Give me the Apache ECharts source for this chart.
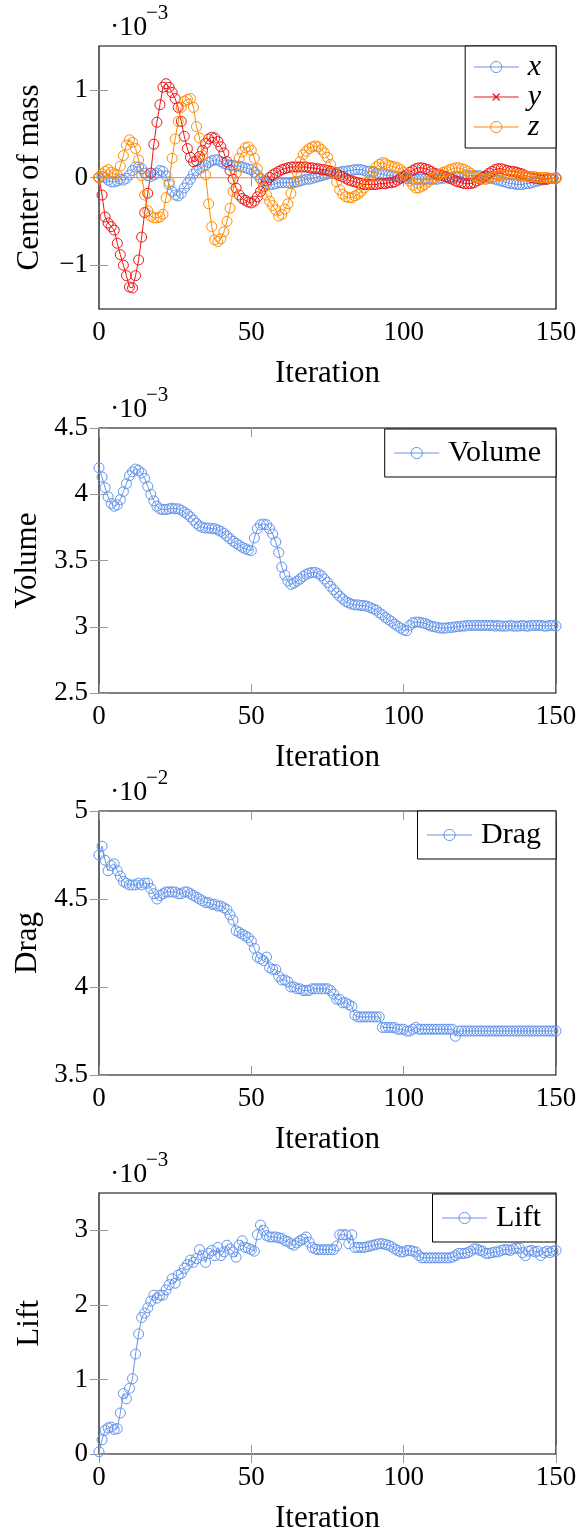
<!DOCTYPE html>
<html>
<head>
<meta charset="utf-8">
<script src="https://cdn.jsdelivr.net/npm/echarts@6/dist/echarts.min.js"></script>
<style>
html,body{margin:0;padding:0;background:#fff;}
#chart{width:580px;height:1535px;}
</style>
</head>
<body>
<div id="chart"></div>
<script>
// ---------- data ----------
const iterations = Array.from({length: 151}, (_, i) => i);
const xTicks = [0, 50, 100, 150];
const comTicks = [-1, 0, 1];
const volumeTicks = [2.5, 3, 3.5, 4, 4.5];
const dragTicks = [3.5, 4, 4.5, 5];
const liftTicks = [0, 1, 2, 3];

// Center of mass (x 1e-3)
const comX = [
 0.00,0.01,0.00,-0.03,-0.05,-0.05,-0.04,-0.02,-0.03,-0.01,
 0.03,0.08,0.12,0.12,0.10,0.05,0.02,0.01,0.03,0.05,
 0.08,0.07,0.02,-0.08,-0.16,-0.20,-0.21,-0.18,-0.12,-0.07,
 -0.02,0.04,0.08,0.10,0.12,0.14,0.17,0.19,0.20,0.20,
 0.18,0.16,0.15,0.14,0.14,0.13,0.13,0.12,0.11,0.10,
 0.09,0.06,0.03,-0.01,-0.04,-0.07,-0.08,-0.08,-0.07,-0.06,
 -0.06,-0.06,-0.06,-0.06,-0.05,-0.05,-0.04,-0.03,-0.02,-0.02,
 -0.01,0.00,0.01,0.02,0.03,0.04,0.05,0.05,0.06,0.06,
 0.07,0.07,0.08,0.08,0.09,0.09,0.09,0.08,0.07,0.07,
 0.06,0.05,0.04,0.04,0.03,0.02,0.02,0.01,0.01,0.00,
 0.00,-0.01,-0.01,-0.02,-0.02,-0.02,-0.02,-0.02,-0.02,-0.02,
 -0.02,-0.02,-0.01,-0.01,0.00,0.00,0.00,0.01,0.01,0.01,
 0.02,0.02,0.02,0.02,0.02,0.02,0.01,0.01,0.00,-0.01,
 -0.02,-0.03,-0.04,-0.05,-0.06,-0.07,-0.07,-0.08,-0.08,-0.08,
 -0.07,-0.07,-0.06,-0.05,-0.04,-0.03,-0.02,-0.02,-0.01,-0.01,
 0.00
];
const comY = [
 0.00,-0.20,-0.45,-0.52,-0.56,-0.60,-0.75,-0.88,-1.00,-1.12,
 -1.25,-1.26,-1.12,-0.94,-0.68,-0.40,-0.18,0.05,0.38,0.63,
 0.83,1.03,1.07,1.03,0.97,0.90,0.80,0.64,0.47,0.33,
 0.23,0.18,0.19,0.24,0.31,0.39,0.44,0.46,0.45,0.41,
 0.35,0.28,0.18,0.08,-0.02,-0.12,-0.20,-0.24,-0.26,-0.28,
 -0.29,-0.27,-0.22,-0.16,-0.10,-0.04,0.00,0.03,0.05,0.07,
 0.09,0.10,0.11,0.12,0.12,0.12,0.12,0.12,0.12,0.11,
 0.11,0.10,0.10,0.09,0.09,0.08,0.07,0.06,0.04,0.02,
 0.01,-0.01,-0.03,-0.04,-0.05,-0.06,-0.07,-0.08,-0.08,-0.08,
 -0.08,-0.08,-0.07,-0.07,-0.07,-0.06,-0.06,-0.05,-0.03,-0.01,
 0.01,0.03,0.06,0.08,0.10,0.11,0.11,0.10,0.09,0.07,
 0.05,0.04,0.03,0.02,0.01,-0.01,-0.02,-0.04,-0.05,-0.06,
 -0.07,-0.07,-0.07,-0.06,-0.04,-0.02,0.00,0.02,0.05,0.07,
 0.09,0.10,0.10,0.09,0.08,0.07,0.07,0.06,0.05,0.04,
 0.02,0.01,0.00,-0.01,-0.01,-0.02,-0.02,-0.02,-0.01,-0.01,
 -0.01
];
const comZ = [
 0.00,0.04,0.07,0.09,0.06,0.04,0.03,0.13,0.25,0.37,
 0.43,0.40,0.33,0.20,0.02,-0.20,-0.38,-0.44,-0.46,-0.46,
 -0.45,-0.42,-0.23,-0.05,0.22,0.44,0.64,0.80,0.87,0.89,
 0.90,0.80,0.58,0.45,0.25,0.03,-0.30,-0.56,-0.71,-0.73,
 -0.70,-0.62,-0.50,-0.35,-0.16,0.05,0.22,0.29,0.34,0.35,
 0.31,0.22,0.10,-0.02,-0.12,-0.20,-0.27,-0.32,-0.37,-0.44,
 -0.42,-0.36,-0.30,-0.18,-0.06,0.06,0.18,0.26,0.30,0.33,
 0.35,0.36,0.35,0.32,0.28,0.23,0.15,0.06,-0.05,-0.14,
 -0.19,-0.22,-0.23,-0.23,-0.21,-0.19,-0.16,-0.12,-0.06,0.01,
 0.07,0.12,0.15,0.17,0.16,0.14,0.13,0.12,0.11,0.09,
 0.06,0.01,-0.04,-0.09,-0.12,-0.12,-0.10,-0.08,-0.05,-0.02,
 0.00,0.02,0.04,0.06,0.07,0.09,0.10,0.11,0.11,0.10,
 0.09,0.07,0.05,0.02,0.00,-0.01,-0.02,-0.02,-0.01,0.00,
 0.01,0.02,0.02,0.03,0.03,0.03,0.03,0.03,0.02,0.02,
 0.02,0.01,0.01,0.01,0.00,0.00,0.00,0.00,-0.01,-0.01,
 -0.01
];
// Volume (x 1e-3)
const volume = [
 4.20,4.13,4.05,3.98,3.93,3.91,3.92,3.96,4.02,4.08,
 4.14,4.17,4.19,4.18,4.16,4.12,4.06,4.00,3.95,3.91,
 3.89,3.885,3.885,3.89,3.895,3.89,3.89,3.88,3.865,3.85,
 3.83,3.805,3.78,3.76,3.75,3.745,3.745,3.74,3.74,3.73,
 3.72,3.705,3.685,3.665,3.645,3.63,3.615,3.60,3.59,3.58,
 3.575,3.67,3.74,3.77,3.775,3.77,3.74,3.70,3.64,3.56,
 3.45,3.39,3.345,3.32,3.33,3.345,3.36,3.38,3.395,3.405,
 3.41,3.41,3.40,3.385,3.36,3.335,3.305,3.28,3.255,3.23,
 3.21,3.19,3.18,3.17,3.165,3.165,3.16,3.16,3.155,3.145,
 3.135,3.125,3.105,3.09,3.07,3.055,3.04,3.02,3.005,2.99,
 2.975,2.97,3.01,3.03,3.035,3.035,3.03,3.025,3.015,3.005,
 3.00,2.995,2.99,2.99,2.99,2.995,2.995,3.00,3.00,3.005,
 3.005,3.01,3.01,3.01,3.01,3.01,3.01,3.01,3.01,3.01,
 3.005,3.01,3.005,3.005,3.005,3.01,3.005,3.005,3.005,3.01,
 3.005,3.005,3.01,3.01,3.01,3.01,3.005,3.005,3.01,3.01,
 3.005
];
// Drag (x 1e-2)
const drag = [
 4.75,4.80,4.72,4.66,4.69,4.70,4.66,4.63,4.60,4.59,
 4.58,4.58,4.58,4.59,4.58,4.59,4.59,4.56,4.53,4.50,
 4.52,4.53,4.54,4.54,4.54,4.54,4.53,4.53,4.54,4.54,
 4.53,4.52,4.51,4.50,4.49,4.48,4.48,4.47,4.47,4.46,
 4.46,4.45,4.44,4.41,4.38,4.32,4.31,4.30,4.29,4.28,
 4.26,4.22,4.17,4.16,4.15,4.17,4.11,4.10,4.10,4.06,
 4.04,4.04,4.03,4.00,4.00,3.99,3.99,3.98,3.98,3.98,
 3.99,3.99,3.99,3.99,3.99,3.99,3.98,3.96,3.93,3.93,
 3.91,3.91,3.90,3.89,3.84,3.83,3.83,3.83,3.83,3.83,
 3.83,3.83,3.83,3.77,3.77,3.77,3.77,3.77,3.76,3.76,
 3.76,3.75,3.75,3.76,3.77,3.76,3.76,3.76,3.76,3.76,
 3.76,3.76,3.76,3.76,3.76,3.76,3.76,3.72,3.75,3.75,
 3.75,3.75,3.75,3.75,3.75,3.75,3.75,3.75,3.75,3.75,
 3.75,3.75,3.75,3.75,3.75,3.75,3.75,3.75,3.75,3.75,
 3.75,3.75,3.75,3.75,3.75,3.75,3.75,3.75,3.75,3.75,
 3.75
];
// Lift (x 1e-3)
const lift = [
 0.03,0.19,0.32,0.35,0.36,0.33,0.34,0.55,0.81,0.74,
 0.88,1.01,1.34,1.61,1.83,1.89,1.96,2.05,2.13,2.09,
 2.13,2.13,2.20,2.27,2.35,2.29,2.40,2.42,2.49,2.54,
 2.60,2.57,2.62,2.74,2.66,2.57,2.69,2.73,2.66,2.77,
 2.66,2.71,2.80,2.75,2.71,2.64,2.80,2.86,2.77,2.76,
 2.74,2.72,2.94,3.07,3.00,2.93,2.91,2.91,2.91,2.90,
 2.89,2.86,2.85,2.82,2.80,2.83,2.86,2.88,2.91,2.84,
 2.77,2.75,2.74,2.74,2.74,2.74,2.74,2.74,2.79,2.94,
 2.94,2.94,2.82,2.94,2.77,2.77,2.77,2.77,2.78,2.79,
 2.80,2.81,2.82,2.82,2.81,2.80,2.78,2.75,2.73,2.71,
 2.71,2.73,2.73,2.72,2.71,2.66,2.63,2.63,2.63,2.63,
 2.63,2.63,2.63,2.63,2.63,2.63,2.64,2.66,2.69,2.69,
 2.69,2.70,2.72,2.75,2.75,2.73,2.72,2.69,2.69,2.70,
 2.71,2.71,2.73,2.74,2.74,2.73,2.75,2.76,2.76,2.70,
 2.66,2.72,2.73,2.71,2.72,2.66,2.70,2.72,2.70,2.72,
 2.73
];

// ---------- style ----------
const FONT = 'Liberation Serif';
const BLUE = '#6495ed', RED = '#f01414', ORANGE = '#ff8c00';
const L = 99, W = 457;
const panels = [
  {top: 46,   height: 263, min: -1.5, max: 1.5, ticks: comTicks,    name: 'Center of mass', exp: '−3'},
  {top: 428,  height: 265, min: 2.5,  max: 4.5, ticks: volumeTicks, name: 'Volume',         exp: '−3'},
  {top: 811,  height: 264, min: 3.5,  max: 5,   ticks: dragTicks,   name: 'Drag',           exp: '−2'},
  {top: 1193, height: 265, min: 0,    max: 3.5, ticks: liftTicks,   name: 'Lift',           exp: '−3'}
];

const fmt = v => (v < 0 ? '−' + Math.abs(v) : String(v));
const tickStyle = {show: true, inside: true, length: 9, lineStyle: {color: '#9a9a9a', width: 1}};

const grid = [], xAxis = [], yAxis = [], graphic = [];
panels.forEach((p, k) => {
  grid.push({left: L, width: W, top: p.top, height: p.height, show: true,
             borderColor: '#000', borderWidth: 1.2, backgroundColor: 'transparent'});
  xAxis.push({type: 'value', gridIndex: k, min: 0, max: 150, position: 'bottom',
    axisLine: {show: false}, splitLine: {show: false},
    axisTick: Object.assign({customValues: xTicks}, tickStyle),
    axisLabel: {customValues: xTicks, margin: 10, color: '#000', fontFamily: FONT, fontSize: 27},
    name: 'Iteration', nameLocation: 'middle', nameGap: 49,
    nameTextStyle: {color: '#000', fontFamily: FONT, fontSize: 31}});
  xAxis.push({type: 'value', gridIndex: k, min: 0, max: 150, position: 'top',
    axisLine: {show: false}, splitLine: {show: false},
    axisTick: Object.assign({customValues: xTicks}, tickStyle),
    axisLabel: {show: false}});
  yAxis.push({type: 'value', gridIndex: k, min: p.min, max: p.max, position: 'left',
    axisLine: {show: false}, splitLine: {show: false},
    axisTick: Object.assign({customValues: p.ticks}, tickStyle),
    axisLabel: {customValues: p.ticks, formatter: fmt, margin: 11, color: '#000', fontFamily: FONT, fontSize: 27},
    name: p.name, nameLocation: 'middle', nameGap: 54, nameRotate: 90,
    nameTextStyle: {color: '#000', fontFamily: FONT, fontSize: 31}});
  yAxis.push({type: 'value', gridIndex: k, min: p.min, max: p.max, position: 'right',
    axisLine: {show: false}, splitLine: {show: false},
    axisTick: Object.assign({customValues: p.ticks}, tickStyle),
    axisLabel: {show: false}});
  graphic.push({type: 'text', silent: true, x: 110, y: p.top - 18,
    style: {text: '·10', font: '28px "' + FONT + '"', fill: '#000', textVerticalAlign: 'middle'}});
  graphic.push({type: 'text', silent: true, x: 146, y: p.top - 33,
    style: {text: p.exp, font: '21px "' + FONT + '"', fill: '#000', textVerticalAlign: 'middle'}});
});

function lineSeries(name, vals, color, k, closeLoop) {
  const data = vals.map((v, i) => [iterations[i], v]);
  if (closeLoop) data.push([iterations[0], vals[0]]);
  return {
    name, type: 'line', xAxisIndex: 2 * k, yAxisIndex: 2 * k, data,
    symbol: 'circle', symbolSize: 10, showSymbol: true, showAllSymbol: true,
    lineStyle: {color, width: 1},
    itemStyle: {color: 'rgba(0,0,0,0)', borderColor: color, borderWidth: 1},
    emphasis: {disabled: true}, silent: true, animation: false
  };
}

const series = [
  lineSeries('x', comX, BLUE, 0, false),
  lineSeries('y', comY, RED, 0, false),
  lineSeries('z', comZ, ORANGE, 0, true),
  lineSeries('Volume', volume, BLUE, 1, false),
  lineSeries('Drag', drag, BLUE, 2, false),
  lineSeries('Lift', lift, BLUE, 3, false)
];

const crossIcon = 'path://M0,6.5H45V7.5H0Z M18.6,3.9L19.4,3.1L26.4,10.1L25.6,10.9Z M25.6,3.1L26.4,3.9L19.4,10.9L18.6,10.1Z M22.5,0L22.51,0L22.5,0.01Z M22.5,14L22.51,14L22.5,13.99Z';
const legItem = (name, color) => ({name,
  itemStyle: {color: 'rgba(0,0,0,0)', borderColor: color, borderWidth: 1},
  lineStyle: {color, width: 1}});
const legBase = {
  right: 24, itemWidth: 45, itemHeight: 14, itemGap: 0,
  borderColor: '#000', borderWidth: 1, backgroundColor: '#fff', borderRadius: 0,
  selectedMode: false,
  textStyle: {color: '#000', fontFamily: FONT, fontSize: 30, lineHeight: 28, padding: [0, 0, 0, 4]}
};
const legend = [
  Object.assign({}, legBase, {top: 46, orient: 'vertical', padding: [6, 15, 6, 8],
    textStyle: Object.assign({}, legBase.textStyle, {fontStyle: 'italic', lineHeight: 28.5}),
    data: [legItem('x', BLUE),
           {name: 'y', icon: crossIcon, itemStyle: {color: RED, borderWidth: 0}},
           legItem('z', ORANGE)]}),
  Object.assign({}, legBase, {top: 429, padding: [9, 15, 9, 9], data: [legItem('Volume', BLUE)]}),
  Object.assign({}, legBase, {top: 811, padding: [9, 15, 9, 9], data: [legItem('Drag', BLUE)]}),
  Object.assign({}, legBase, {top: 1194, padding: [9, 15, 9, 9], data: [legItem('Lift', BLUE)]})
];

const chart = echarts.init(document.getElementById('chart'), null, {renderer: 'canvas'});
chart.setOption({
  animation: false,
  backgroundColor: '#fff',
  grid, xAxis, yAxis, series, legend, graphic
});
</script>
</body>
</html>
